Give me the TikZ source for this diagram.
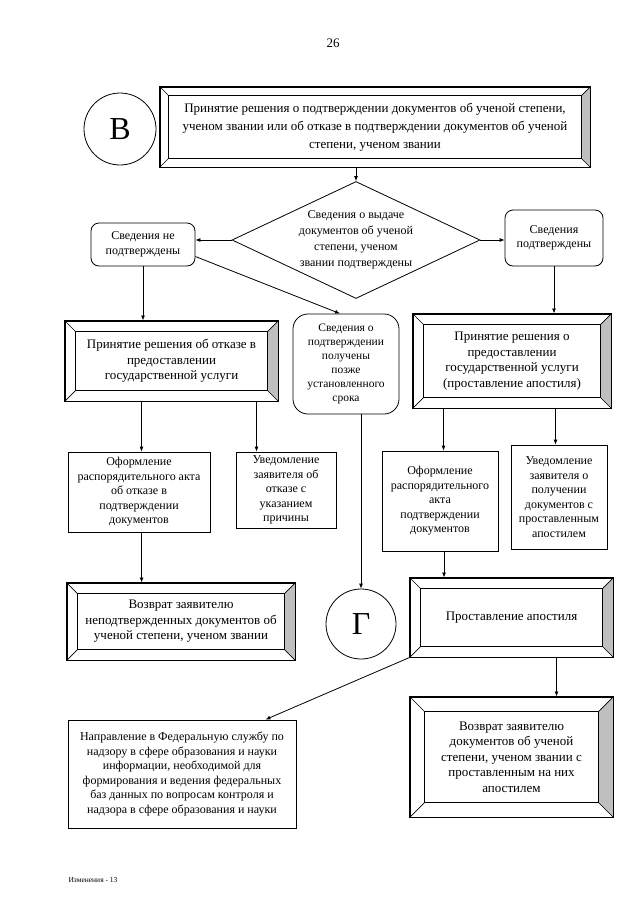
\documentclass[tikz,border=0pt]{standalone}
\usepackage{fontspec}
\setmainfont{Liberation Serif}
\usetikzlibrary{shapes.geometric,calc,arrows.meta}
\tikzset{
  ln/.style={line width=0.8pt},
  arr/.style={line width=0.8pt,-{Latex[length=5pt,width=4pt]}},
  bx/.style={draw,line width=0.8pt,inner sep=0pt,align=center},
  bev/.style={bx,line width=1pt},
  rbox/.style={bx,rounded corners=8pt},
  circ/.style={draw,circle,line width=0.8pt,inner sep=0pt,font=\fontsize{32}{34}\selectfont},
  tbig/.style={font=\fontsize{13}{18}\selectfont},
  tmed/.style={font=\fontsize{13}{15.5}\selectfont},
  tsml/.style={font=\fontsize{12}{14.5}\selectfont},
}
\newcommand\bevelize[2]{%
  \fill[gray!50] (#1.north east) -- ($(#1.north east)+(-#2,-#2)$) -- ($(#1.south east)+(-#2,#2)$) -- (#1.south east) -- cycle;
  \draw[line width=0.7pt] ($(#1.north west)+(#2,-#2)$) rectangle ($(#1.south east)+(-#2,#2)$);
  \draw[line width=0.7pt] (#1.north west) -- ++(#2,-#2) (#1.north east) -- ++(-#2,-#2) (#1.south east) -- ++(-#2,#2) (#1.south west) -- ++(#2,#2);
  \draw[line width=1pt] (#1.north west) rectangle (#1.south east);
}
\begin{document}
\begin{tikzpicture}[x=1pt,y=1pt]
\useasboundingbox[fill=white] (0,0) rectangle (640,-905);
\node[font=\fontsize{13}{15}\selectfont] (pg) at (333,-43) {26};
\node[circ,minimum size=72pt] (cb) at (120,-129) {В};
\node[bev,tbig,minimum width=430pt,minimum height=80pt] (top) at (375,-127) {Принятие решения о подтверждении документов об ученой степени,\\ ученом звании или об отказе в подтверждении документов об ученой\\ степени, ученом звании};
\bevelize{top}{9}
\node[draw,diamond,aspect=2.12,minimum width=248pt,minimum height=117pt,inner sep=0pt,align=center,font=\fontsize{12}{16}\selectfont,line width=0.8pt] (dia) at (356,-240) {Сведения о выдаче\\ документов об ученой\\ степени, ученом\\ звании подтверждены};
\node[rbox,tsml,minimum width=104pt,minimum height=43pt] (nl) at (143,-244.5) {Сведения не\\ подтверждены};
\node[rbox,tsml,minimum width=98pt,minimum height=56pt] (np) at (554,-238) {Сведения\\ подтверждены};
\node[bev,tmed,minimum width=213pt,minimum height=80pt] (lb) at (171.5,-361) {Принятие решения об отказе в\\ предоставлении\\ государственной услуги};
\bevelize{lb}{11}
\node[bx,rounded corners=15pt,font=\fontsize{11.5}{13.9}\selectfont,minimum width=106pt,minimum height=100pt] (mb) at (346,-364) {Сведения о\\ подтверждении\\ получены\\ позже\\ установленного\\ срока};
\node[bev,tmed,minimum width=198pt,minimum height=94pt] (rb) at (512,-361) {Принятие решения о\\ предоставлении\\ государственной услуги\\ (проставление апостиля)};
\bevelize{rb}{11}
\node[bx,tsml,minimum width=142pt,minimum height=80pt] (la) at (139,-492) {Оформление\\ распорядительного акта\\ об отказе в\\ подтверждении\\ документов};
\node[bx,tsml,minimum width=100pt,minimum height=76pt] (lu) at (286,-490) {Уведомление\\ заявителя об\\ отказе с\\ указанием\\ причины};
\node[bx,tsml,minimum width=116pt,minimum height=100pt] (ra) at (440,-501) {Оформление\\ распорядительного\\ акта\\ подтверждении\\ документов};
\node[bx,tsml,minimum width=96pt,minimum height=104pt] (ru) at (559,-497) {Уведомление\\ заявителя о\\ получении\\ документов с\\ проставленным\\ апостилем};
\node[bev,tmed,minimum width=228pt,minimum height=77pt] (lr) at (181,-621.5) {Возврат заявителю\\ неподтвержденных документов об\\ ученой степени, ученом звании};
\bevelize{lr}{11}
\node[circ,minimum size=70pt] (cg) at (361,-624) {Г};
\node[bev,tmed,minimum width=203pt,minimum height=79pt] (ap) at (511.5,-617.5) {Проставление апостиля};
\bevelize{ap}{11}
\node[bx,tsml,minimum width=228pt,minimum height=108pt] (fed) at (182,-774) {Направление в Федеральную службу по\\ надзору в сфере образования и науки\\ информации, необходимой для\\ формирования и ведения федеральных\\ баз данных по вопросам контроля и\\ надзора в сфере образования и науки};
\node[bev,tmed,minimum width=203pt,minimum height=120pt] (rr) at (511.5,-757) {Возврат заявителю\\ документов об ученой\\ степени, ученом звании с\\ проставленным на них\\ апостилем};
\bevelize{rr}{15}
\node[font=\fontsize{7.5}{9}\selectfont,anchor=west] (ft) at (65,-880) {Изменения - 13};
% connectors
\draw[arr] (top.south -| dia.north) -- (dia.north);
\draw[arr] (dia.west) -- (dia.west -| nl.east);
\draw[arr] (dia.east) -- (dia.east -| np.west);
\draw[arr] (nl.south) -- (nl.south |- lb.north);
\draw[arr] ($(nl.east)+(0,-12)$) -- ($(mb.north)+(-6,0)$);
\draw[arr] (np.south) -- (np.south |- rb.north);
\coordinate (lb1) at ($(lb.south west)+(77,0)$);
\coordinate (lb2) at ($(lb.south west)+(192,0)$);
\draw[arr] (lb1) -- (lb1 |- la.north);
\draw[arr] (lb2) -- (lb2 |- lu.north);
\coordinate (rb1) at ($(rb.south west)+(31,0)$);
\coordinate (rb2) at ($(rb.south west)+(143,0)$);
\draw[arr] (rb1) -- (rb1 |- ra.north);
\draw[arr] (rb2) -- (rb2 |- ru.north);
\coordinate (mb1) at ($(mb.south)+(15,0)$);
\draw[arr] (mb1) -- (mb1 |- cg.north);
\coordinate (la1) at ($(la.south west)+(74,0)$);
\draw[arr] (la1) -- (la1 |- lr.north);
\coordinate (ra1) at ($(ra.south)+(4,0)$);
\draw[arr] (ra1) -- (ra1 |- ap.north);
\draw[arr] (ap.south west) -- ($(fed.north east)+(-31,0)$);
\coordinate (ap1) at ($(ap.south west)+(147,0)$);
\draw[arr] (ap1) -- (ap1 |- rr.north);
\end{tikzpicture}
\end{document}
